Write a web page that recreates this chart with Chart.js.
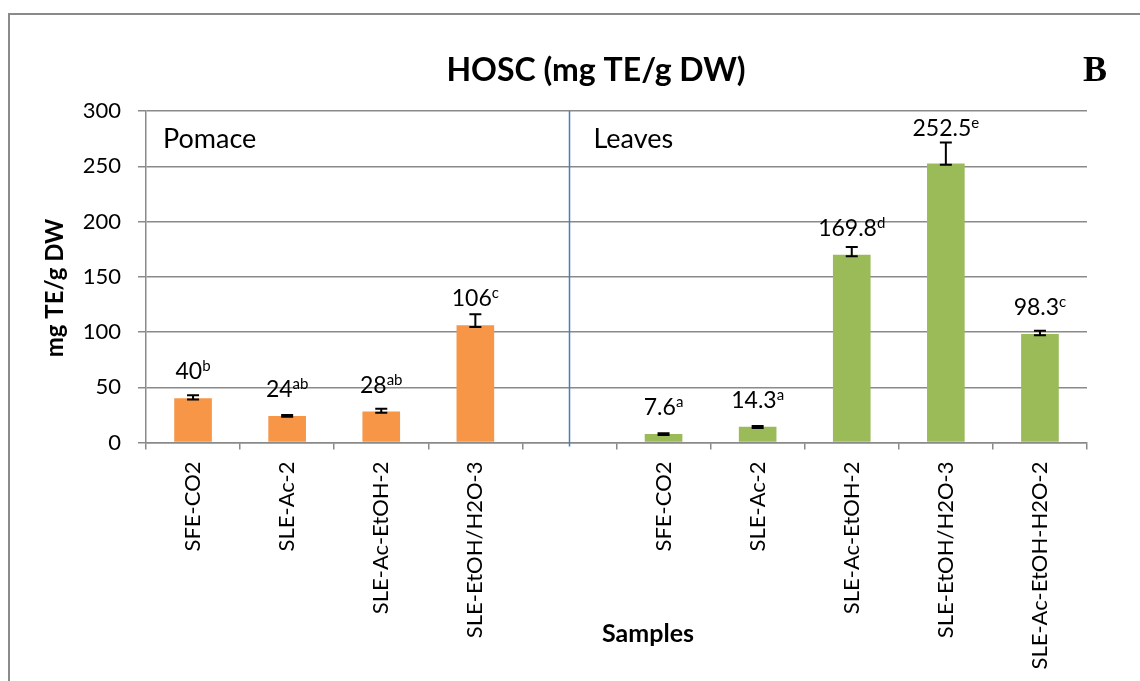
<!DOCTYPE html>
<html>
<head>
<meta charset="utf-8">
<script src="https://cdn.jsdelivr.net/npm/chart.js@4.4.1/dist/chart.umd.min.js"></script>
<style>
  html, body { margin: 0; padding: 0; background: #ffffff; }
  #wrap { width: 1140px; height: 681px; position: relative; }
</style>
</head>
<body>
<div id="wrap"><canvas id="c" width="1140" height="681"></canvas></div>
<script>
// HOSC values (mg TE/g DW) per extraction method
const pomaceSamples = ['SFE-CO2', 'SLE-Ac-2', 'SLE-Ac-EtOH-2', 'SLE-EtOH/H2O-3'];
const leavesSamples = ['SFE-CO2', 'SLE-Ac-2', 'SLE-Ac-EtOH-2', 'SLE-EtOH/H2O-3', 'SLE-Ac-EtOH-H2O-2'];
const pomaceValues = [40, 24, 28, 106];
const leavesValues = [7.6, 14.3, 169.8, 252.5, 98.3];
const pomaceLetters = ['b', 'ab', 'ab', 'c'];
const leavesLetters = ['a', 'a', 'd', 'e', 'c'];
const pomaceErrPlus = [2.8, 0.8, 2.5, 10];
const pomaceErrMinus = [1.1, 0.8, 1.1, 1.4];
const leavesErrPlus = [0.8, 0.6, 7.2, 19, 2.9];
const leavesErrMinus = [0.8, 1.2, 1.2, 1.2, 1.3];
const yTicks = [0, 50, 100, 150, 200, 250, 300];

const groupNames = ['Pomace', 'Leaves'];
const chartTitle = 'HOSC (mg TE/g DW)';
const panelTag = 'B';
const yTitle = 'mg TE/g DW';
const xTitle = 'Samples';

const ORANGE = '#F79646';
const GREEN = '#9BBB59';
const GRID = '#8a8a8a';
const FONT = 'Lato';

// one empty slot separates the two sample groups
const labels = [...pomaceSamples, '', ...leavesSamples];
const values = [...pomaceValues, null, ...leavesValues];
const letters = [...pomaceLetters, '', ...leavesLetters];
const errPlus = [...pomaceErrPlus, null, ...leavesErrPlus];
const errMinus = [...pomaceErrMinus, null, ...leavesErrMinus];
const colors = [...pomaceValues.map(() => ORANGE), 'rgba(0,0,0,0)', ...leavesValues.map(() => GREEN)];
const gapIndex = pomaceSamples.length;

const framePlugin = {
  id: 'frame',
  beforeDraw(chart) {
    const ctx = chart.ctx;
    ctx.save();
    ctx.strokeStyle = GRID;
    ctx.lineWidth = 2;
    ctx.beginPath();
    ctx.moveTo(9, 681);
    ctx.lineTo(9, 14);
    ctx.lineTo(1140, 14);
    ctx.stroke();
    ctx.restore();
  },
  beforeDatasetsDraw(chart) {
    // divider between the Pomace and Leaves groups
    const ctx = chart.ctx;
    const x = Math.round(chart.scales.x.getPixelForValue(gapIndex)) + 0.5;
    ctx.save();
    ctx.strokeStyle = '#4A7EBB';
    ctx.lineWidth = 1.5;
    ctx.beginPath();
    ctx.moveTo(x, chart.chartArea.top);
    ctx.lineTo(x, chart.chartArea.bottom + 4);
    ctx.stroke();
    ctx.restore();
  }
};

const errorBarPlugin = {
  id: 'errorBars',
  afterDatasetsDraw(chart) {
    const ctx = chart.ctx;
    const y = chart.scales.y;
    const meta = chart.getDatasetMeta(0);
    ctx.save();
    ctx.strokeStyle = '#000';
    ctx.lineWidth = 2;
    values.forEach((v, i) => {
      if (v === null) return;
      const x = meta.data[i].x;
      const yHi = y.getPixelForValue(v + errPlus[i]);
      const yLo = y.getPixelForValue(v - errMinus[i]);
      ctx.beginPath();
      ctx.moveTo(x, yHi); ctx.lineTo(x, yLo);
      ctx.moveTo(x - 6, yHi); ctx.lineTo(x + 6, yHi);
      ctx.moveTo(x - 6, yLo); ctx.lineTo(x + 6, yLo);
      ctx.stroke();
    });
    ctx.restore();
  },
  afterDraw(chart) {
    const ctx = chart.ctx;
    const y = chart.scales.y;
    const area = chart.chartArea;
    const meta = chart.getDatasetMeta(0);
    ctx.save();
    ctx.fillStyle = '#000';
    ctx.textBaseline = 'alphabetic';

    // value labels with significance letters
    values.forEach((v, i) => {
      if (v === null) return;
      const x = meta.data[i].x;
      const barTop = y.getPixelForValue(v);
      const errTop = y.getPixelForValue(v + errPlus[i]);
      const base = Math.min(barTop - 19, errTop - 6);
      const main = String(v);
      ctx.font = `23px ${FONT}`;
      const w1 = ctx.measureText(main).width;
      ctx.font = `15px ${FONT}`;
      const w2 = ctx.measureText(letters[i]).width;
      const left = x - (w1 + w2) / 2;
      ctx.textAlign = 'left';
      ctx.font = `23px ${FONT}`;
      ctx.fillText(main, left, base);
      ctx.font = `15px ${FONT}`;
      ctx.fillText(letters[i], left + w1, base - 8);
    });

    // group names
    ctx.font = `27px ${FONT}`;
    ctx.textAlign = 'left';
    ctx.fillText(groupNames[0], area.left + 17, 148);
    ctx.fillText(groupNames[1], chart.scales.x.getPixelForValue(gapIndex) + 24, 148);

    // chart title and panel tag
    ctx.font = `bold 32px ${FONT}`;
    ctx.textAlign = 'center';
    ctx.fillText(chartTitle, 596, 81);
    ctx.font = `bold 36px "Liberation Serif"`;
    ctx.textAlign = 'left';
    ctx.fillText(panelTag, 1083, 81);

    // axis titles
    ctx.font = `bold 25px ${FONT}`;
    ctx.textAlign = 'center';
    ctx.fillText(xTitle, 648, 642);
    ctx.save();
    ctx.font = `bold 24px ${FONT}`;
    ctx.translate(63, 288);
    ctx.rotate(-Math.PI / 2);
    ctx.fillText(yTitle, 0, 0);
    ctx.restore();
    ctx.restore();
  }
};

function draw() {
  new Chart(document.getElementById('c'), {
    type: 'bar',
    data: {
      labels: labels,
      datasets: [{
        data: values,
        backgroundColor: colors,
        borderWidth: 0,
        barPercentage: 0.4,
        categoryPercentage: 1.0
      }]
    },
    options: {
      responsive: false,
      animation: false,
      devicePixelRatio: 1,
      layout: { padding: { top: 111, right: 53, left: 0, bottom: 0 } },
      plugins: {
        legend: { display: false },
        tooltip: { enabled: false },
        title: { display: false }
      },
      scales: {
        x: {
          grid: { display: true, drawOnChartArea: false, drawTicks: true, tickLength: 7, offset: true, color: GRID, lineWidth: 1.5 },
          border: { display: true, color: GRID, width: 1.5 },
          ticks: {
            autoSkip: false, minRotation: 90, maxRotation: 90, padding: 12,
            color: '#000', font: { family: FONT, size: 22 }
          },
          afterFit(s) { s.height = 681 - 442.5; }
        },
        y: {
          min: 0, max: 300,
          grid: { color: GRID, lineWidth: 1.5, tickLength: 8, drawTicks: true },
          border: { display: true, color: GRID, width: 1.5 },
          ticks: { padding: 17, color: '#000', font: { family: FONT, size: 22 } },
          afterBuildTicks(s) { s.ticks = yTicks.map(v => ({ value: v })); },
          afterFit(s) { s.width = 146; }
        }
      }
    },
    plugins: [framePlugin, errorBarPlugin]
  });
}

if (document.fonts && document.fonts.load) {
  Promise.all([
    document.fonts.load(`22px ${FONT}`),
    document.fonts.load(`bold 22px ${FONT}`),
    document.fonts.load('bold 36px "Liberation Serif"')
  ]).then(draw, draw);
} else {
  draw();
}
</script>
</body>
</html>
